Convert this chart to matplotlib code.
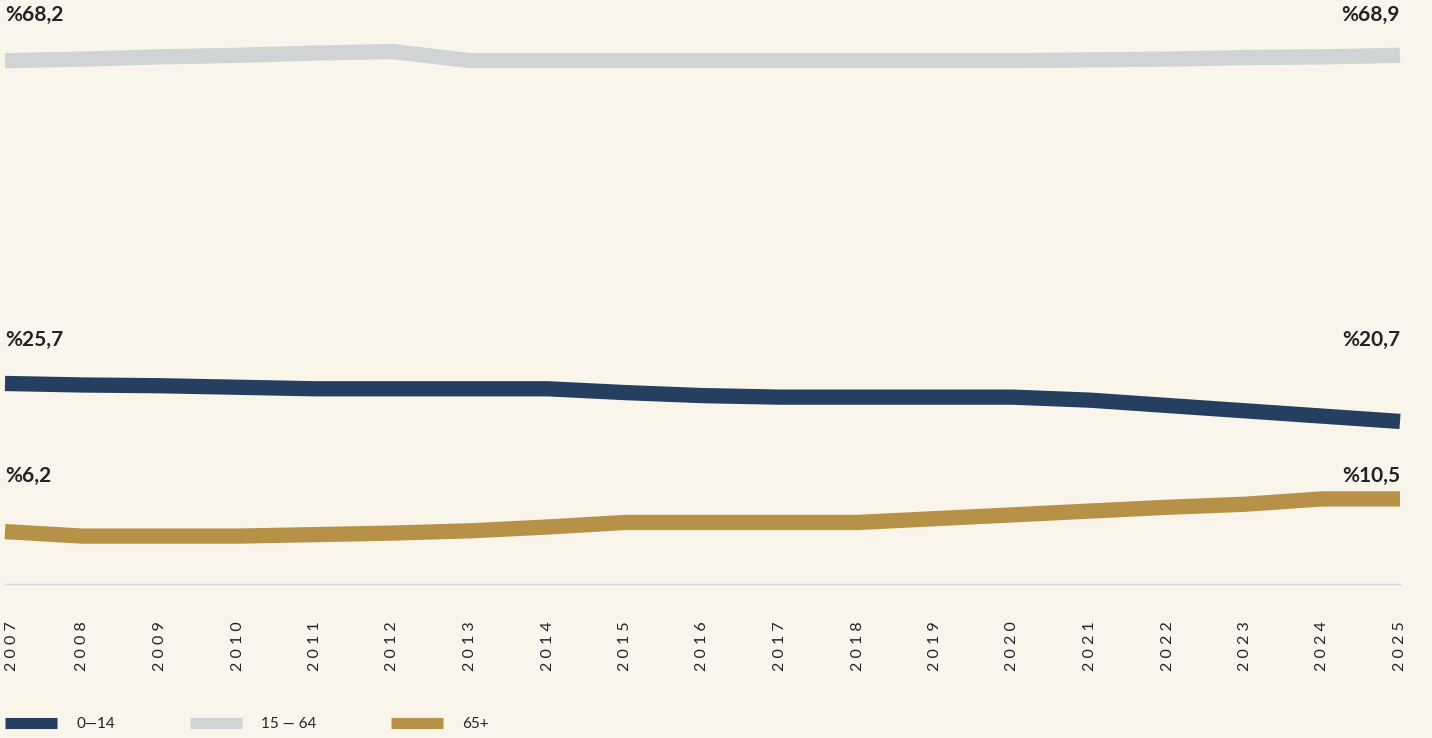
#!/usr/bin/env python3
"""Age group share of population, 2007-2025 (0-14, 15-64, 65+)."""

import matplotlib
matplotlib.use('Agg')
import matplotlib.pyplot as plt
from matplotlib.lines import Line2D

years = list(range(2007, 2026))
age_0_14 = [25.7, 25.5, 25.4, 25.2, 25.0, 25.0, 25.0, 25.0, 24.5, 24.1,
            23.9, 23.9, 23.9, 23.9, 23.5, 22.8, 22.1, 21.4, 20.7]
age_15_64 = [68.2, 68.4, 68.7, 68.9, 69.2, 69.4, 68.2, 68.2, 68.2, 68.2,
             68.2, 68.2, 68.2, 68.2, 68.3, 68.4, 68.6, 68.7, 68.9]
age_65 = [6.2, 5.6, 5.6, 5.6, 5.8, 6.0, 6.3, 6.8, 7.4, 7.4,
          7.4, 7.4, 7.9, 8.4, 8.9, 9.4, 9.8, 10.5, 10.5]
series_names = ['0—14', '15 — 64', '65+']
start_labels = ['%25,7', '%68,2', '%6,2']
end_labels = ['%20,7', '%68,9', '%10,5']

BG = '#f9f5eb'
COLORS = ['#243f5f', '#d0d4d5', '#b89149']
TEXT = '#222222'
LABEL_OFFSETS = [43, 46, 56]  # pixels above the first point

plt.rcParams['font.family'] = ['Lato', 'DejaVu Sans']

fig = plt.figure(figsize=(14.32, 7.38), dpi=100, facecolor=BG)
ax = fig.add_axes([5 / 1432, 0.2087, 1395 / 1432, 0.7791])
ax.set_facecolor(BG)

all_series = [age_0_14, age_15_64, age_65]
for vals, color, name, lab0, lab1, off in zip(all_series, COLORS, series_names,
                                              start_labels, end_labels, LABEL_OFFSETS):
    ax.plot(years, vals, color=color, linewidth=11, solid_capstyle='butt',
            solid_joinstyle='miter', clip_on=False, zorder=3)
    ax.annotate(lab0, xy=(years[0], vals[0]), xytext=(0, off),
                textcoords='offset pixels', ha='left', va='center',
                fontsize=15, fontweight='bold', color=TEXT)
    ax.annotate(lab1, xy=(years[-1], vals[0]), xytext=(0, off),
                textcoords='offset pixels', ha='right', va='center',
                fontsize=15, fontweight='bold', color=TEXT)

ax.set_xlim(years[0], years[-1])
ax.set_ylim(-0.7, 75)
ax.set_yticks([])
ax.set_xticks(years)
ax.set_xticklabels([' '.join(str(y)) for y in years], rotation=90,
                   fontsize=11.5, color=TEXT)
# first label would fall off the left edge, so hang it to the right
ax.get_xticklabels()[0].set_horizontalalignment('left')
ax.tick_params(axis='x', length=0, pad=27)
for side in ['top', 'left', 'right']:
    ax.spines[side].set_visible(False)
ax.spines['bottom'].set_color('#d6d6d6')
ax.spines['bottom'].set_linewidth(1)

handles = [Line2D([0], [0], color=c, linewidth=8, solid_capstyle='butt')
           for c in COLORS]
leg = fig.legend(handles, series_names, loc='center left',
                 bbox_to_anchor=(5 / 1432, 0.019), ncol=3, frameon=False,
                 fontsize=11, handlelength=3.4, handletextpad=1.25,
                 columnspacing=4.9, borderpad=0, borderaxespad=0)
for t in leg.get_texts():
    t.set_color(TEXT)

fig.savefig('out.png', dpi=100, facecolor=BG)
